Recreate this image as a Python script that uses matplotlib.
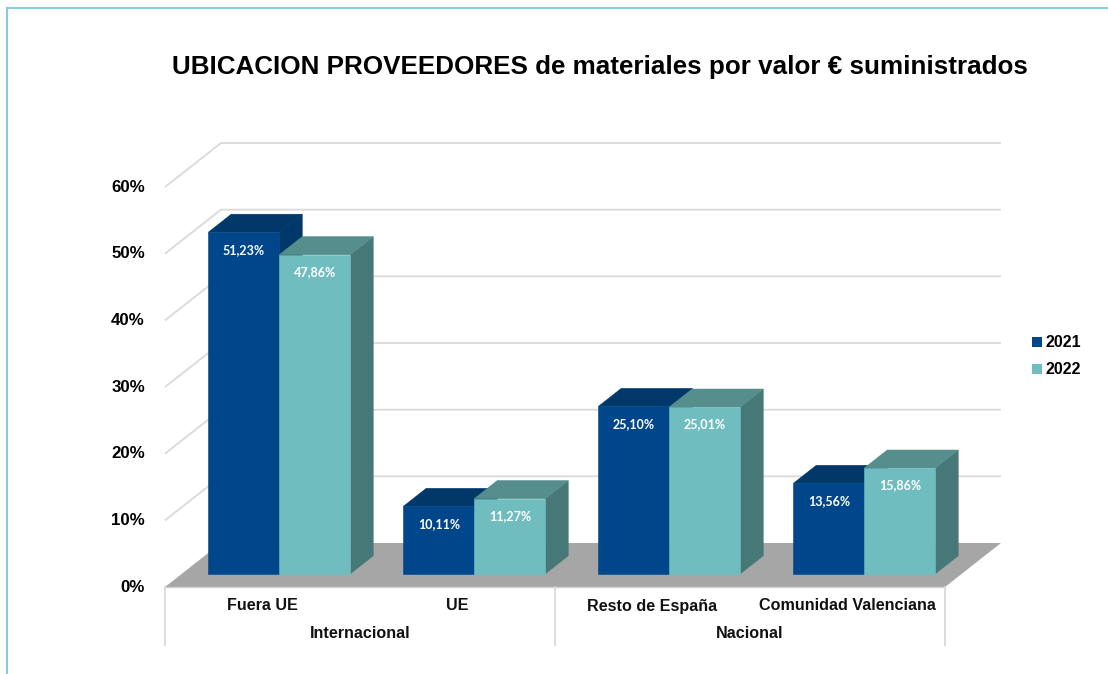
import numpy as np
import matplotlib.pyplot as plt
from matplotlib.patches import Patch
from matplotlib.lines import Line2D

plt.rcParams['font.family'] = ['Liberation Sans', 'DejaVu Sans']

title = "UBICACION PROVEEDORES de materiales por valor € suministrados"
categories = ['Fuera UE', 'UE', 'Resto de España', 'Comunidad Valenciana']
groups = ['Internacional', 'Nacional']
group_span = [(0, 2), (2, 4)]
years = ['2021', '2022']
values_2021 = [51.23, 10.11, 25.10, 13.56]
values_2022 = [47.86, 11.27, 25.01, 15.86]
yticks = [0, 10, 20, 30, 40, 50, 60]

# colours: front, top, side
colors = {
	'2021': ('#00468b', '#00386a', '#00386a'),
	'2022': ('#70bdc0', '#568e8e', '#467877'),
}

W, H = 1108, 674
fig = plt.figure(figsize=(W / 100, H / 100), dpi=100)
# axes sized so data x 0..4 is the front floor edge and y 0..60 the front value range
ax = fig.add_axes([165 / W, (H - 587) / H, 780 / W, 400 / H])
ax.set_xlim(0, 4)
ax.set_ylim(0, 60)
ax.axis('off')

# oblique depth of the whole floor, in data units
DX, DY = 0.287, 6.6
d0, d1 = 0.3, 0.71   # bar depth range (fraction of floor depth)
bw = 0.364           # bar width
ncat = len(categories)

# back wall gridlines
for v in yticks[1:]:
	ax.plot([0, DX, ncat + DX], [v, v + DY, v + DY], color='#d9d9d9', lw=1.3,
		clip_on=False, zorder=1, solid_capstyle='butt')

# floor
ax.fill([0, ncat, ncat + DX, DX], [0, 0, DY, DY], color='#a6a6a6', lw=0, zorder=2, clip_on=False)
ax.plot([0, ncat], [0, 0], color='#d0d0d0', lw=1, zorder=2, clip_on=False)


def draw_bar(x0, v, cols):
	front, top, side = cols
	ox, oy = d0 * DX, d0 * DY
	ex, ey = (d1 - d0) * DX, (d1 - d0) * DY
	xl, xr = x0 + ox, x0 + ox + bw
	yb, yt = oy, oy + v
	# side
	ax.fill([xr, xr + ex, xr + ex, xr], [yb, yb + ey, yt + ey, yt], fc=side, ec=side, lw=0.4, zorder=3, clip_on=False)
	# top
	ax.fill([xl, xr, xr + ex, xl + ex], [yt, yt, yt + ey, yt + ey], fc=top, ec=top, lw=0.4, zorder=3, clip_on=False)
	# front
	ax.fill([xl, xr, xr, xl], [yb, yb, yt, yt], fc=front, ec=front, lw=0.4, zorder=3, clip_on=False)
	ax.text((xl + xr) / 2, yt - 2.6, f"{v:.2f}%".replace('.', ','), ha='center', va='center',
		color='white', fontsize=9, fontweight='bold', family=['Lato', 'DejaVu Sans'], zorder=4)


for i in range(ncat):
	left = i + 0.5 - bw
	draw_bar(left, values_2021[i], colors['2021'])
	draw_bar(left + bw, values_2022[i], colors['2022'])

# y labels
for v in yticks:
	ax.text(-0.103, v, f"{v}%", ha='right', va='center', fontsize=12.2, fontweight='bold', clip_on=False)

# category labels and group labels
for i, c in enumerate(categories):
	ax.text(i + 0.5, -2.85, c, ha='center', va='center', fontsize=11.6, fontweight='bold', color='#111111')
for g, (a, b) in zip(groups, group_span):
	ax.text((a + b) / 2, -7.05, g, ha='center', va='center', fontsize=11.6, fontweight='bold', color='#111111')
for x in [0, 2, 4]:
	ax.plot([x, x], [0, -8.7], color='#d9d9d9', lw=1.3, clip_on=False)

# legend
handles = [Patch(facecolor=colors[y][0], edgecolor='none', label=y) for y in years]
leg = fig.legend(handles=handles, loc='upper left', bbox_to_anchor=(1018 / W, 1 - 321 / H),
	frameon=False, handlelength=0.6, handleheight=0.6, handletextpad=0.2,
	labelspacing=0.75, prop={'weight': 'bold', 'size': 11.5})

# title
fig.text(600 / W, 1 - 67 / H, title, ha='center', va='center', fontsize=18.7, fontweight='bold')

# light blue frame (top and left edges visible)
fig.add_artist(Line2D([7 / W, 1], [1 - 8 / H, 1 - 8 / H], color='#7cc6de', lw=1.3))
fig.add_artist(Line2D([7 / W, 7 / W], [0, 1 - 8 / H], color='#7cc6de', lw=1.3))

fig.savefig('out.png', dpi=100)
